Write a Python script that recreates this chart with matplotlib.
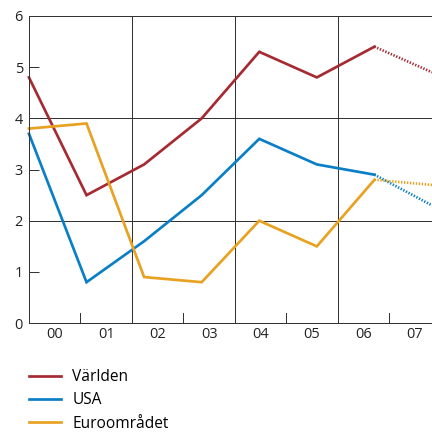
import matplotlib
matplotlib.use("Agg")
import matplotlib.pyplot as plt
import numpy as np

plt.rcParams['font.family'] = ['Open Sans', 'DejaVu Sans']

categories = ["00", "01", "02", "03", "04", "05", "06", "07"]
varlden = [4.8, 2.5, 3.1, 4.0, 5.3, 4.8, 5.4, 4.9]
usa = [3.7, 0.8, 1.6, 2.5, 3.6, 3.1, 2.9, 2.3]
euro = [3.8, 3.9, 0.9, 0.8, 2.0, 1.5, 2.8, 2.7]
series = [("Världen", varlden, "#A52A32"),
          ("USA", usa, "#0A7FC6"),
          ("Euroområdet", euro, "#E8A120")]

fig = plt.figure(figsize=(6, 6), dpi=72)
ax = fig.add_axes([0.067, 0.252, 0.933, 0.711])

x = np.arange(len(varlden))
n_solid = 7
for name, vals, col in series:
    ax.plot(x[:n_solid], vals[:n_solid], color=col, lw=2.7, label=name,
            solid_joinstyle='miter', clip_on=False)
    ax.plot(x[n_solid - 1:], vals[n_solid - 1:], color=col, lw=2.7,
            linestyle=(0, (0.5, 0.6)), clip_on=False)

ax.set_xlim(0, 7)
ax.set_ylim(0, 6)

# category band width (labels are on a slightly different scale than data points)
w = 7 / 7.83
for k in range(1, len(categories)):
    xs = k * w
    if k % 2 == 0:
        ax.axvline(xs, color="#333333", lw=1, zorder=0)
    else:
        ax.plot([xs, xs], [0, 0.2], color="#333333", lw=1, zorder=0)
for yv in [2, 4, 6]:
    ax.axhline(yv, color="#333333", lw=1, zorder=0)

ax.set_xticks([(k + 0.5) * w for k in range(len(categories))])
ax.set_xticklabels(categories, fontsize=14.5, color="#222222")
ax.tick_params(axis='x', length=0, pad=4)
ax.set_yticks(range(0, 7))
ax.tick_params(axis='y', direction='in', length=10, width=1, color="#333333",
               labelsize=14.5, labelcolor="#222222", pad=6)

for s in ['right', 'top']:
    ax.spines[s].set_visible(False)
for s in ['left', 'bottom']:
    ax.spines[s].set_color("#333333")
    ax.spines[s].set_linewidth(1)

handles = [plt.Line2D([], [], color=c, lw=2.7) for _, _, c in series]
fig.legend(handles, [n for n, _, _ in series], loc='upper left',
           bbox_to_anchor=(0.067, 0.145), frameon=False, fontsize=15.5,
           handlelength=2.1, handletextpad=0.7, labelspacing=0.46,
           borderpad=0, borderaxespad=0)

fig.savefig("out.png", dpi=72)
